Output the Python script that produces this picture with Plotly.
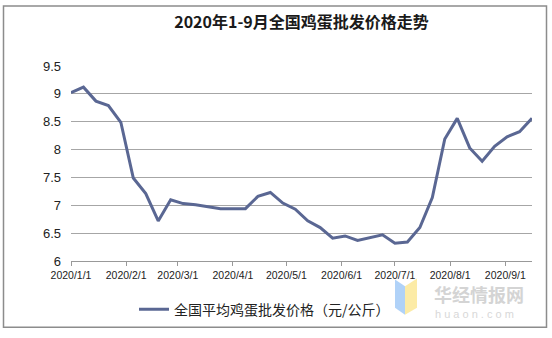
import plotly.graph_objects as go
import pandas as pd

# Weekly national average egg wholesale price (yuan/kg), 2020
start_date = "2020-01-01"
prices = [9.02, 9.12, 8.87, 8.79, 8.49, 7.49, 7.21, 6.72, 7.10, 7.03,
          7.01, 6.97, 6.94, 6.94, 6.94, 7.16, 7.23, 7.04, 6.93, 6.72,
          6.60, 6.41, 6.45, 6.37, 6.42, 6.47, 6.32, 6.34, 6.60, 7.14,
          8.19, 8.56, 8.03, 7.79, 8.06, 8.23, 8.32, 8.56]
dates = pd.date_range(start_date, periods=len(prices), freq="7D")

month_ticks = ["2020-01-01", "2020-02-01", "2020-03-01", "2020-04-01", "2020-05-01",
               "2020-06-01", "2020-07-01", "2020-08-01", "2020-09-01"]
month_labels = ["2020/1/1", "2020/2/1", "2020/3/1", "2020/4/1", "2020/5/1",
                "2020/6/1", "2020/7/1", "2020/8/1", "2020/9/1"]
y_ticks = [6, 6.5, 7, 7.5, 8, 8.5, 9, 9.5]
y_labels = ["6", "6.5", "7", "7.5", "8", "8.5", "9", "9.5"]

title_text = "2020年1-9月全国鸡蛋批发价格走势"
series_name = "全国平均鸡蛋批发价格（元/公斤）"

W, H = 552, 338
L, R, T, B = 71, 20, 66, 72
pw, ph = W - L - R, H - T - B

def px(x):
    return (x - L) / pw

def py(y):
    return (H - B - y) / ph

fig = go.Figure()
fig.add_trace(go.Scatter(
    x=dates, y=prices, mode="lines", name=series_name,
    line=dict(color="#5a6793", width=3),
))

fig.update_layout(
    width=W, height=H,
    margin=dict(l=L, r=R, t=T, b=B, pad=0),
    paper_bgcolor="white", plot_bgcolor="white",
    title=dict(text=title_text, x=0.5, xref="paper", xanchor="center",
               y=1 - 22 / H, yref="container", yanchor="middle",
               font=dict(family="Noto Sans CJK SC", size=16, color="#1a1a1a", weight="bold")),
    showlegend=True,
    legend=dict(orientation="h", x=px(134), y=py(316), xanchor="left", yanchor="middle",
                font=dict(family="Noto Sans CJK SC", size=14, color="#222222"),
                bgcolor="rgba(0,0,0,0)", itemwidth=30),
    font=dict(family="Liberation Sans", color="#222222"),
)

fig.update_xaxes(
    type="date",
    range=[pd.Timestamp("2020-01-01"), dates[-1]],
    tickvals=month_ticks, ticktext=month_labels,
    tickfont=dict(family="Liberation Sans", size=10.5, color="#222222"),
    ticks="outside", ticklen=4, tickcolor="#999999",
    showline=True, linecolor="#999999", linewidth=1,
    showgrid=False, zeroline=False, fixedrange=True,
)
fig.update_yaxes(
    range=[6, 9.5],
    tickvals=y_ticks, ticktext=y_labels,
    tickfont=dict(family="Liberation Sans", size=13, color="#222222"),
    ticks="", ticklabelstandoff=9,
    showgrid=True, gridcolor="#a6a6a6", gridwidth=1,
    showline=False, zeroline=False, fixedrange=True,
)

# outer border
fig.add_shape(type="rect", xref="paper", yref="paper",
              x0=px(3.5), x1=px(546.5), y0=py(334), y1=py(4.5),
              line=dict(color="#8c8c8c", width=1.5), fillcolor="rgba(0,0,0,0)", layer="below")

# watermark logo
fig.add_shape(type="path", xref="paper", yref="paper",
              path=f"M {px(395)} {py(285)} L {px(405)} {py(292)} L {px(405)} {py(321)} L {px(395)} {py(314)} Z",
              fillcolor="rgba(150,195,245,0.75)", line=dict(width=0))
fig.add_shape(type="path", xref="paper", yref="paper",
              path=f"M {px(405)} {py(292)} L {px(417)} {py(284)} L {px(417)} {py(314)} L {px(405)} {py(321)} Z",
              fillcolor="rgba(252,232,150,0.85)", line=dict(width=0))
fig.add_annotation(text="华经情报网", xref="paper", yref="paper", x=px(432), y=py(300),
                   xanchor="left", yanchor="middle", showarrow=False,
                   font=dict(family="Noto Sans CJK SC", size=18, color="#d4d4d4", weight="bold"))
fig.add_annotation(text="h u a o n . c o m", xref="paper", yref="paper", x=px(433), y=py(320),
                   xanchor="left", yanchor="middle", showarrow=False,
                   font=dict(family="Liberation Sans", size=11, color="#d8d8d8"))

fig.write_html("out.html")
